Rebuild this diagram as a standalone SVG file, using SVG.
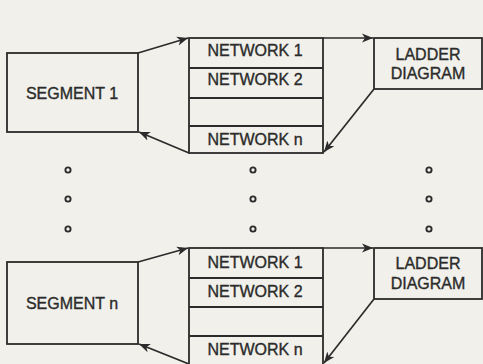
<svg xmlns="http://www.w3.org/2000/svg" width="483" height="364" viewBox="0 0 483 364">
  <style>
    .box { fill: none; stroke: #2b2b2b; stroke-width: 1.8; }
    .lbl { font-family: "Liberation Sans", Arial, sans-serif; font-size: 16px; fill: #2b2b2b; stroke: #2b2b2b; stroke-width: 0.35; text-anchor: middle; }
    .link { fill: none; stroke: #2b2b2b; stroke-width: 1.7; }
    .dot { fill: none; stroke: #2b2b2b; stroke-width: 1.9; }
  </style>
  <defs>
    <marker id="arr" viewBox="0 0 12 10" refX="11" refY="5" markerWidth="12" markerHeight="10" markerUnits="userSpaceOnUse" orient="auto">
      <path d="M0,0.5 L11,5 L0,9.5 L3,5 Z" fill="#2b2b2b"/>
    </marker>
  </defs>
  <rect width="483" height="364" fill="#f1f0ea"/>

  <!-- first segment block -->
  <g id="segment-1">
    <rect class="box" x="7" y="53" width="131" height="79"/>
    <text class="lbl" x="72" y="99">SEGMENT 1</text>
  </g>
  <g id="networks-1">
    <rect class="box" x="189" y="38" width="134" height="115"/>
    <line class="box" x1="189" y1="68" x2="323" y2="68"/>
    <line class="box" x1="189" y1="98" x2="323" y2="98"/>
    <line class="box" x1="189" y1="126" x2="323" y2="126"/>
    <text class="lbl" x="255" y="56">NETWORK 1</text>
    <text class="lbl" x="255" y="85">NETWORK 2</text>
    <text class="lbl" x="255" y="145">NETWORK n</text>
  </g>
  <g id="ladder-1">
    <rect class="box" x="374" y="38" width="108" height="51"/>
    <text class="lbl" x="428" y="60">LADDER</text>
    <text class="lbl" x="428" y="79">DIAGRAM</text>
  </g>

  <!-- continuation dots -->
  <g id="dots">
    <circle class="dot" cx="68" cy="170" r="2.6"/>
    <circle class="dot" cx="68" cy="199" r="2.6"/>
    <circle class="dot" cx="68" cy="229" r="2.6"/>
    <circle class="dot" cx="253" cy="170" r="2.6"/>
    <circle class="dot" cx="253" cy="199" r="2.6"/>
    <circle class="dot" cx="253" cy="229" r="2.6"/>
    <circle class="dot" cx="429" cy="170" r="2.6"/>
    <circle class="dot" cx="429" cy="199" r="2.6"/>
    <circle class="dot" cx="429" cy="229" r="2.6"/>
  </g>

  <!-- last segment block -->
  <g id="segment-n">
    <rect class="box" x="7" y="262" width="131" height="82"/>
    <text class="lbl" x="72" y="309">SEGMENT n</text>
  </g>
  <g id="networks-n">
    <rect class="box" x="189" y="248" width="134" height="120"/>
    <line class="box" x1="189" y1="278" x2="323" y2="278"/>
    <line class="box" x1="189" y1="307" x2="323" y2="307"/>
    <line class="box" x1="189" y1="336" x2="323" y2="336"/>
    <text class="lbl" x="255" y="268">NETWORK 1</text>
    <text class="lbl" x="255" y="297">NETWORK 2</text>
    <text class="lbl" x="255" y="355">NETWORK n</text>
  </g>
  <g id="ladder-n">
    <rect class="box" x="374" y="248" width="108" height="51"/>
    <text class="lbl" x="428" y="269">LADDER</text>
    <text class="lbl" x="428" y="289">DIAGRAM</text>
  </g>

  <g id="connectors">
    <line class="link" x1="138" y1="53" x2="188" y2="38" marker-end="url(#arr)"/>
    <line class="link" x1="323" y1="38" x2="373" y2="38" marker-end="url(#arr)"/>
    <line class="link" x1="374" y1="89" x2="324" y2="152" marker-end="url(#arr)"/>
    <line class="link" x1="189" y1="153" x2="139" y2="132" marker-end="url(#arr)"/>

    <line class="link" x1="138" y1="262" x2="188" y2="248" marker-end="url(#arr)"/>
    <line class="link" x1="323" y1="248" x2="373" y2="248" marker-end="url(#arr)"/>
    <line class="link" x1="374" y1="299" x2="324" y2="363" marker-end="url(#arr)"/>
    <line class="link" x1="189" y1="364" x2="139" y2="344" marker-end="url(#arr)"/>
  </g>
</svg>
